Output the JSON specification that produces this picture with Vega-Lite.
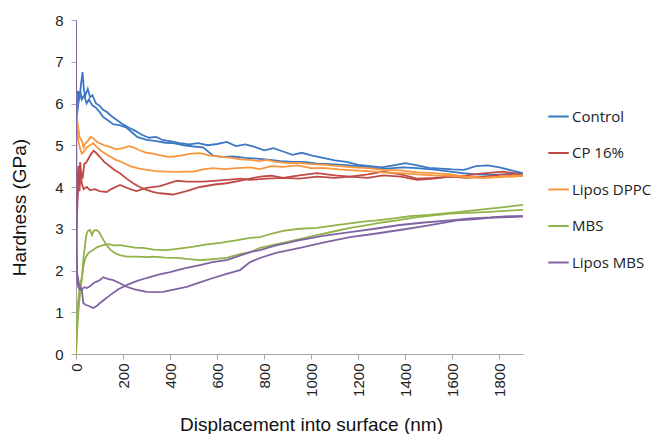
{
  "$schema": "https://vega.github.io/schema/vega-lite/v6.json",
  "width": 447,
  "height": 334,
  "autosize": {"type": "none"},
  "padding": {"left": 76, "top": 20, "right": 129, "bottom": 80},
  "background": "white",
  "config": {"view": {"stroke": null}, "font": "Liberation Sans"},
  "data": {"values": [
{"s":"Control","r":"C1","x":2,"y":5.9},{"s":"Control","r":"C1","x":8,"y":6.3},{"s":"Control","r":"C1","x":15,"y":6.1},{"s":"Control","r":"C1","x":22,"y":6.5},{"s":"Control","r":"C1","x":28,"y":6.75},{"s":"Control","r":"C1","x":34,"y":6.3},{"s":"Control","r":"C1","x":40,"y":6.2},{"s":"Control","r":"C1","x":50,"y":6.35},{"s":"Control","r":"C1","x":60,"y":6.15},{"s":"Control","r":"C1","x":70,"y":6.2},{"s":"Control","r":"C1","x":85,"y":6.0},{"s":"Control","r":"C1","x":100,"y":5.95},{"s":"Control","r":"C1","x":115,"y":5.85},{"s":"Control","r":"C1","x":130,"y":5.8},{"s":"Control","r":"C1","x":150,"y":5.7},{"s":"Control","r":"C1","x":175,"y":5.6},{"s":"Control","r":"C1","x":200,"y":5.5},{"s":"Control","r":"C1","x":225,"y":5.42},{"s":"Control","r":"C1","x":250,"y":5.35},{"s":"Control","r":"C1","x":280,"y":5.25},{"s":"Control","r":"C1","x":310,"y":5.18},{"s":"Control","r":"C1","x":340,"y":5.2},{"s":"Control","r":"C1","x":370,"y":5.12},{"s":"Control","r":"C1","x":400,"y":5.1},{"s":"Control","r":"C1","x":440,"y":5.05},{"s":"Control","r":"C1","x":480,"y":5.02},{"s":"Control","r":"C1","x":520,"y":5.05},{"s":"Control","r":"C1","x":560,"y":5.0},{"s":"Control","r":"C1","x":600,"y":5.03},{"s":"Control","r":"C1","x":640,"y":5.08},{"s":"Control","r":"C1","x":680,"y":4.98},{"s":"Control","r":"C1","x":720,"y":5.02},{"s":"Control","r":"C1","x":760,"y":4.96},{"s":"Control","r":"C1","x":800,"y":4.88},{"s":"Control","r":"C1","x":840,"y":4.93},{"s":"Control","r":"C1","x":880,"y":4.85},{"s":"Control","r":"C1","x":920,"y":4.77},{"s":"Control","r":"C1","x":960,"y":4.82},{"s":"Control","r":"C1","x":1000,"y":4.76},{"s":"Control","r":"C1","x":1050,"y":4.7},{"s":"Control","r":"C1","x":1100,"y":4.64},{"s":"Control","r":"C1","x":1150,"y":4.6},{"s":"Control","r":"C1","x":1200,"y":4.53},{"s":"Control","r":"C1","x":1250,"y":4.5},{"s":"Control","r":"C1","x":1300,"y":4.47},{"s":"Control","r":"C1","x":1350,"y":4.52},{"s":"Control","r":"C1","x":1400,"y":4.57},{"s":"Control","r":"C1","x":1450,"y":4.52},{"s":"Control","r":"C1","x":1500,"y":4.46},{"s":"Control","r":"C1","x":1550,"y":4.44},{"s":"Control","r":"C1","x":1600,"y":4.42},{"s":"Control","r":"C1","x":1650,"y":4.41},{"s":"Control","r":"C1","x":1700,"y":4.5},{"s":"Control","r":"C1","x":1750,"y":4.52},{"s":"Control","r":"C1","x":1800,"y":4.47},{"s":"Control","r":"C1","x":1850,"y":4.4},{"s":"Control","r":"C1","x":1900,"y":4.33},
{"s":"Control","r":"C2","x":2,"y":5.6},{"s":"Control","r":"C2","x":10,"y":6.0},{"s":"Control","r":"C2","x":18,"y":6.3},{"s":"Control","r":"C2","x":25,"y":6.1},{"s":"Control","r":"C2","x":35,"y":6.2},{"s":"Control","r":"C2","x":45,"y":6.0},{"s":"Control","r":"C2","x":55,"y":6.1},{"s":"Control","r":"C2","x":70,"y":5.95},{"s":"Control","r":"C2","x":85,"y":5.9},{"s":"Control","r":"C2","x":100,"y":5.8},{"s":"Control","r":"C2","x":115,"y":5.68},{"s":"Control","r":"C2","x":135,"y":5.6},{"s":"Control","r":"C2","x":160,"y":5.5},{"s":"Control","r":"C2","x":185,"y":5.48},{"s":"Control","r":"C2","x":215,"y":5.42},{"s":"Control","r":"C2","x":240,"y":5.3},{"s":"Control","r":"C2","x":260,"y":5.2},{"s":"Control","r":"C2","x":300,"y":5.13},{"s":"Control","r":"C2","x":340,"y":5.1},{"s":"Control","r":"C2","x":380,"y":5.06},{"s":"Control","r":"C2","x":413,"y":5.05},{"s":"Control","r":"C2","x":460,"y":5.0},{"s":"Control","r":"C2","x":500,"y":4.97},{"s":"Control","r":"C2","x":540,"y":4.95},{"s":"Control","r":"C2","x":583,"y":4.75},{"s":"Control","r":"C2","x":620,"y":4.72},{"s":"Control","r":"C2","x":668,"y":4.73},{"s":"Control","r":"C2","x":720,"y":4.7},{"s":"Control","r":"C2","x":770,"y":4.68},{"s":"Control","r":"C2","x":825,"y":4.65},{"s":"Control","r":"C2","x":870,"y":4.62},{"s":"Control","r":"C2","x":922,"y":4.6},{"s":"Control","r":"C2","x":970,"y":4.6},{"s":"Control","r":"C2","x":1024,"y":4.56},{"s":"Control","r":"C2","x":1080,"y":4.55},{"s":"Control","r":"C2","x":1135,"y":4.53},{"s":"Control","r":"C2","x":1200,"y":4.5},{"s":"Control","r":"C2","x":1260,"y":4.46},{"s":"Control","r":"C2","x":1320,"y":4.44},{"s":"Control","r":"C2","x":1390,"y":4.47},{"s":"Control","r":"C2","x":1450,"y":4.45},{"s":"Control","r":"C2","x":1534,"y":4.41},{"s":"Control","r":"C2","x":1590,"y":4.37},{"s":"Control","r":"C2","x":1645,"y":4.33},{"s":"Control","r":"C2","x":1700,"y":4.3},{"s":"Control","r":"C2","x":1760,"y":4.29},{"s":"Control","r":"C2","x":1820,"y":4.3},{"s":"Control","r":"C2","x":1874,"y":4.33},{"s":"Control","r":"C2","x":1900,"y":4.3},
{"s":"CP 16%","r":"P1","x":1,"y":3.0},{"s":"CP 16%","r":"P1","x":5,"y":4.0},{"s":"CP 16%","r":"P1","x":10,"y":4.5},{"s":"CP 16%","r":"P1","x":15,"y":3.9},{"s":"CP 16%","r":"P1","x":20,"y":4.4},{"s":"CP 16%","r":"P1","x":28,"y":4.2},{"s":"CP 16%","r":"P1","x":35,"y":4.55},{"s":"CP 16%","r":"P1","x":45,"y":4.6},{"s":"CP 16%","r":"P1","x":55,"y":4.7},{"s":"CP 16%","r":"P1","x":65,"y":4.8},{"s":"CP 16%","r":"P1","x":75,"y":4.87},{"s":"CP 16%","r":"P1","x":85,"y":4.82},{"s":"CP 16%","r":"P1","x":100,"y":4.73},{"s":"CP 16%","r":"P1","x":120,"y":4.6},{"s":"CP 16%","r":"P1","x":145,"y":4.49},{"s":"CP 16%","r":"P1","x":165,"y":4.4},{"s":"CP 16%","r":"P1","x":187,"y":4.33},{"s":"CP 16%","r":"P1","x":215,"y":4.2},{"s":"CP 16%","r":"P1","x":243,"y":4.09},{"s":"CP 16%","r":"P1","x":270,"y":4.0},{"s":"CP 16%","r":"P1","x":300,"y":3.93},{"s":"CP 16%","r":"P1","x":330,"y":3.88},{"s":"CP 16%","r":"P1","x":357,"y":3.85},{"s":"CP 16%","r":"P1","x":413,"y":3.82},{"s":"CP 16%","r":"P1","x":470,"y":3.9},{"s":"CP 16%","r":"P1","x":527,"y":4.0},{"s":"CP 16%","r":"P1","x":590,"y":4.06},{"s":"CP 16%","r":"P1","x":640,"y":4.09},{"s":"CP 16%","r":"P1","x":700,"y":4.15},{"s":"CP 16%","r":"P1","x":740,"y":4.2},{"s":"CP 16%","r":"P1","x":782,"y":4.25},{"s":"CP 16%","r":"P1","x":830,"y":4.27},{"s":"CP 16%","r":"P1","x":880,"y":4.22},{"s":"CP 16%","r":"P1","x":950,"y":4.28},{"s":"CP 16%","r":"P1","x":1024,"y":4.33},{"s":"CP 16%","r":"P1","x":1100,"y":4.28},{"s":"CP 16%","r":"P1","x":1165,"y":4.25},{"s":"CP 16%","r":"P1","x":1240,"y":4.3},{"s":"CP 16%","r":"P1","x":1305,"y":4.37},{"s":"CP 16%","r":"P1","x":1380,"y":4.3},{"s":"CP 16%","r":"P1","x":1450,"y":4.2},{"s":"CP 16%","r":"P1","x":1520,"y":4.22},{"s":"CP 16%","r":"P1","x":1590,"y":4.25},{"s":"CP 16%","r":"P1","x":1660,"y":4.28},{"s":"CP 16%","r":"P1","x":1720,"y":4.32},{"s":"CP 16%","r":"P1","x":1815,"y":4.37},{"s":"CP 16%","r":"P1","x":1860,"y":4.33},{"s":"CP 16%","r":"P1","x":1900,"y":4.29},
{"s":"CP 16%","r":"P2","x":1,"y":2.8},{"s":"CP 16%","r":"P2","x":6,"y":3.6},{"s":"CP 16%","r":"P2","x":12,"y":4.2},{"s":"CP 16%","r":"P2","x":18,"y":4.6},{"s":"CP 16%","r":"P2","x":24,"y":4.1},{"s":"CP 16%","r":"P2","x":32,"y":3.95},{"s":"CP 16%","r":"P2","x":46,"y":4.0},{"s":"CP 16%","r":"P2","x":60,"y":3.92},{"s":"CP 16%","r":"P2","x":80,"y":3.95},{"s":"CP 16%","r":"P2","x":100,"y":3.9},{"s":"CP 16%","r":"P2","x":130,"y":3.88},{"s":"CP 16%","r":"P2","x":150,"y":3.95},{"s":"CP 16%","r":"P2","x":187,"y":4.05},{"s":"CP 16%","r":"P2","x":230,"y":3.95},{"s":"CP 16%","r":"P2","x":257,"y":3.9},{"s":"CP 16%","r":"P2","x":300,"y":3.98},{"s":"CP 16%","r":"P2","x":357,"y":4.02},{"s":"CP 16%","r":"P2","x":430,"y":4.15},{"s":"CP 16%","r":"P2","x":470,"y":4.13},{"s":"CP 16%","r":"P2","x":540,"y":4.13},{"s":"CP 16%","r":"P2","x":640,"y":4.17},{"s":"CP 16%","r":"P2","x":700,"y":4.2},{"s":"CP 16%","r":"P2","x":740,"y":4.17},{"s":"CP 16%","r":"P2","x":810,"y":4.2},{"s":"CP 16%","r":"P2","x":880,"y":4.22},{"s":"CP 16%","r":"P2","x":950,"y":4.2},{"s":"CP 16%","r":"P2","x":1024,"y":4.25},{"s":"CP 16%","r":"P2","x":1100,"y":4.22},{"s":"CP 16%","r":"P2","x":1165,"y":4.25},{"s":"CP 16%","r":"P2","x":1240,"y":4.22},{"s":"CP 16%","r":"P2","x":1305,"y":4.28},{"s":"CP 16%","r":"P2","x":1380,"y":4.25},{"s":"CP 16%","r":"P2","x":1450,"y":4.17},{"s":"CP 16%","r":"P2","x":1520,"y":4.2},{"s":"CP 16%","r":"P2","x":1590,"y":4.25},{"s":"CP 16%","r":"P2","x":1660,"y":4.22},{"s":"CP 16%","r":"P2","x":1740,"y":4.25},{"s":"CP 16%","r":"P2","x":1815,"y":4.3},{"s":"CP 16%","r":"P2","x":1900,"y":4.27},
{"s":"Lipos DPPC","r":"D1","x":1,"y":5.9},{"s":"Lipos DPPC","r":"D1","x":5,"y":5.6},{"s":"Lipos DPPC","r":"D1","x":10,"y":5.4},{"s":"Lipos DPPC","r":"D1","x":15,"y":5.2},{"s":"Lipos DPPC","r":"D1","x":20,"y":5.15},{"s":"Lipos DPPC","r":"D1","x":25,"y":5.1},{"s":"Lipos DPPC","r":"D1","x":32,"y":4.95},{"s":"Lipos DPPC","r":"D1","x":40,"y":5.05},{"s":"Lipos DPPC","r":"D1","x":50,"y":5.1},{"s":"Lipos DPPC","r":"D1","x":62,"y":5.2},{"s":"Lipos DPPC","r":"D1","x":73,"y":5.17},{"s":"Lipos DPPC","r":"D1","x":85,"y":5.1},{"s":"Lipos DPPC","r":"D1","x":100,"y":5.05},{"s":"Lipos DPPC","r":"D1","x":120,"y":5.0},{"s":"Lipos DPPC","r":"D1","x":145,"y":4.96},{"s":"Lipos DPPC","r":"D1","x":170,"y":4.9},{"s":"Lipos DPPC","r":"D1","x":200,"y":4.93},{"s":"Lipos DPPC","r":"D1","x":225,"y":4.98},{"s":"Lipos DPPC","r":"D1","x":243,"y":4.95},{"s":"Lipos DPPC","r":"D1","x":270,"y":4.88},{"s":"Lipos DPPC","r":"D1","x":300,"y":4.82},{"s":"Lipos DPPC","r":"D1","x":328,"y":4.8},{"s":"Lipos DPPC","r":"D1","x":360,"y":4.76},{"s":"Lipos DPPC","r":"D1","x":390,"y":4.72},{"s":"Lipos DPPC","r":"D1","x":413,"y":4.73},{"s":"Lipos DPPC","r":"D1","x":450,"y":4.76},{"s":"Lipos DPPC","r":"D1","x":490,"y":4.8},{"s":"Lipos DPPC","r":"D1","x":527,"y":4.81},{"s":"Lipos DPPC","r":"D1","x":570,"y":4.75},{"s":"Lipos DPPC","r":"D1","x":612,"y":4.73},{"s":"Lipos DPPC","r":"D1","x":660,"y":4.7},{"s":"Lipos DPPC","r":"D1","x":700,"y":4.66},{"s":"Lipos DPPC","r":"D1","x":740,"y":4.65},{"s":"Lipos DPPC","r":"D1","x":780,"y":4.62},{"s":"Lipos DPPC","r":"D1","x":810,"y":4.65},{"s":"Lipos DPPC","r":"D1","x":850,"y":4.6},{"s":"Lipos DPPC","r":"D1","x":900,"y":4.57},{"s":"Lipos DPPC","r":"D1","x":950,"y":4.58},{"s":"Lipos DPPC","r":"D1","x":1000,"y":4.55},{"s":"Lipos DPPC","r":"D1","x":1060,"y":4.53},{"s":"Lipos DPPC","r":"D1","x":1120,"y":4.5},{"s":"Lipos DPPC","r":"D1","x":1180,"y":4.47},{"s":"Lipos DPPC","r":"D1","x":1240,"y":4.45},{"s":"Lipos DPPC","r":"D1","x":1305,"y":4.41},{"s":"Lipos DPPC","r":"D1","x":1380,"y":4.4},{"s":"Lipos DPPC","r":"D1","x":1450,"y":4.35},{"s":"Lipos DPPC","r":"D1","x":1520,"y":4.33},{"s":"Lipos DPPC","r":"D1","x":1590,"y":4.3},{"s":"Lipos DPPC","r":"D1","x":1660,"y":4.25},{"s":"Lipos DPPC","r":"D1","x":1730,"y":4.22},{"s":"Lipos DPPC","r":"D1","x":1800,"y":4.25},{"s":"Lipos DPPC","r":"D1","x":1860,"y":4.27},{"s":"Lipos DPPC","r":"D1","x":1900,"y":4.28},
{"s":"Lipos DPPC","r":"D2","x":1,"y":5.5},{"s":"Lipos DPPC","r":"D2","x":5,"y":5.3},{"s":"Lipos DPPC","r":"D2","x":10,"y":5.1},{"s":"Lipos DPPC","r":"D2","x":18,"y":4.9},{"s":"Lipos DPPC","r":"D2","x":25,"y":4.8},{"s":"Lipos DPPC","r":"D2","x":35,"y":4.85},{"s":"Lipos DPPC","r":"D2","x":45,"y":4.95},{"s":"Lipos DPPC","r":"D2","x":60,"y":5.0},{"s":"Lipos DPPC","r":"D2","x":73,"y":5.05},{"s":"Lipos DPPC","r":"D2","x":90,"y":4.95},{"s":"Lipos DPPC","r":"D2","x":110,"y":4.85},{"s":"Lipos DPPC","r":"D2","x":130,"y":4.78},{"s":"Lipos DPPC","r":"D2","x":145,"y":4.73},{"s":"Lipos DPPC","r":"D2","x":170,"y":4.65},{"s":"Lipos DPPC","r":"D2","x":200,"y":4.58},{"s":"Lipos DPPC","r":"D2","x":230,"y":4.5},{"s":"Lipos DPPC","r":"D2","x":260,"y":4.45},{"s":"Lipos DPPC","r":"D2","x":300,"y":4.41},{"s":"Lipos DPPC","r":"D2","x":340,"y":4.38},{"s":"Lipos DPPC","r":"D2","x":385,"y":4.37},{"s":"Lipos DPPC","r":"D2","x":430,"y":4.36},{"s":"Lipos DPPC","r":"D2","x":470,"y":4.37},{"s":"Lipos DPPC","r":"D2","x":500,"y":4.37},{"s":"Lipos DPPC","r":"D2","x":540,"y":4.42},{"s":"Lipos DPPC","r":"D2","x":583,"y":4.45},{"s":"Lipos DPPC","r":"D2","x":630,"y":4.43},{"s":"Lipos DPPC","r":"D2","x":685,"y":4.45},{"s":"Lipos DPPC","r":"D2","x":740,"y":4.47},{"s":"Lipos DPPC","r":"D2","x":782,"y":4.43},{"s":"Lipos DPPC","r":"D2","x":830,"y":4.5},{"s":"Lipos DPPC","r":"D2","x":880,"y":4.48},{"s":"Lipos DPPC","r":"D2","x":940,"y":4.52},{"s":"Lipos DPPC","r":"D2","x":1000,"y":4.45},{"s":"Lipos DPPC","r":"D2","x":1060,"y":4.45},{"s":"Lipos DPPC","r":"D2","x":1120,"y":4.42},{"s":"Lipos DPPC","r":"D2","x":1180,"y":4.4},{"s":"Lipos DPPC","r":"D2","x":1240,"y":4.38},{"s":"Lipos DPPC","r":"D2","x":1305,"y":4.35},{"s":"Lipos DPPC","r":"D2","x":1380,"y":4.33},{"s":"Lipos DPPC","r":"D2","x":1450,"y":4.3},{"s":"Lipos DPPC","r":"D2","x":1520,"y":4.28},{"s":"Lipos DPPC","r":"D2","x":1590,"y":4.27},{"s":"Lipos DPPC","r":"D2","x":1660,"y":4.24},{"s":"Lipos DPPC","r":"D2","x":1730,"y":4.22},{"s":"Lipos DPPC","r":"D2","x":1800,"y":4.24},{"s":"Lipos DPPC","r":"D2","x":1860,"y":4.25},{"s":"Lipos DPPC","r":"D2","x":1900,"y":4.27},
{"s":"MBS","r":"M1","x":0,"y":0},{"s":"MBS","r":"M1","x":3,"y":0.6},{"s":"MBS","r":"M1","x":8,"y":1.2},{"s":"MBS","r":"M1","x":14,"y":1.5},{"s":"MBS","r":"M1","x":20,"y":1.7},{"s":"MBS","r":"M1","x":25,"y":1.85},{"s":"MBS","r":"M1","x":32,"y":2.3},{"s":"MBS","r":"M1","x":40,"y":2.7},{"s":"MBS","r":"M1","x":46,"y":2.9},{"s":"MBS","r":"M1","x":52,"y":2.95},{"s":"MBS","r":"M1","x":60,"y":2.97},{"s":"MBS","r":"M1","x":68,"y":2.85},{"s":"MBS","r":"M1","x":75,"y":2.95},{"s":"MBS","r":"M1","x":87,"y":2.97},{"s":"MBS","r":"M1","x":98,"y":2.92},{"s":"MBS","r":"M1","x":110,"y":2.8},{"s":"MBS","r":"M1","x":125,"y":2.65},{"s":"MBS","r":"M1","x":145,"y":2.5},{"s":"MBS","r":"M1","x":170,"y":2.4},{"s":"MBS","r":"M1","x":190,"y":2.36},{"s":"MBS","r":"M1","x":215,"y":2.33},{"s":"MBS","r":"M1","x":260,"y":2.33},{"s":"MBS","r":"M1","x":300,"y":2.32},{"s":"MBS","r":"M1","x":328,"y":2.33},{"s":"MBS","r":"M1","x":380,"y":2.31},{"s":"MBS","r":"M1","x":430,"y":2.3},{"s":"MBS","r":"M1","x":480,"y":2.27},{"s":"MBS","r":"M1","x":527,"y":2.25},{"s":"MBS","r":"M1","x":580,"y":2.27},{"s":"MBS","r":"M1","x":640,"y":2.3},{"s":"MBS","r":"M1","x":700,"y":2.4},{"s":"MBS","r":"M1","x":740,"y":2.44},{"s":"MBS","r":"M1","x":782,"y":2.54},{"s":"MBS","r":"M1","x":830,"y":2.6},{"s":"MBS","r":"M1","x":880,"y":2.66},{"s":"MBS","r":"M1","x":950,"y":2.75},{"s":"MBS","r":"M1","x":1024,"y":2.85},{"s":"MBS","r":"M1","x":1100,"y":2.94},{"s":"MBS","r":"M1","x":1165,"y":3.02},{"s":"MBS","r":"M1","x":1250,"y":3.1},{"s":"MBS","r":"M1","x":1300,"y":3.15},{"s":"MBS","r":"M1","x":1364,"y":3.2},{"s":"MBS","r":"M1","x":1450,"y":3.28},{"s":"MBS","r":"M1","x":1520,"y":3.32},{"s":"MBS","r":"M1","x":1590,"y":3.36},{"s":"MBS","r":"M1","x":1660,"y":3.38},{"s":"MBS","r":"M1","x":1740,"y":3.4},{"s":"MBS","r":"M1","x":1820,"y":3.43},{"s":"MBS","r":"M1","x":1900,"y":3.45},
{"s":"MBS","r":"M2","x":0,"y":0},{"s":"MBS","r":"M2","x":4,"y":0.5},{"s":"MBS","r":"M2","x":10,"y":1.0},{"s":"MBS","r":"M2","x":18,"y":1.5},{"s":"MBS","r":"M2","x":25,"y":1.8},{"s":"MBS","r":"M2","x":31,"y":2.09},{"s":"MBS","r":"M2","x":40,"y":2.3},{"s":"MBS","r":"M2","x":50,"y":2.4},{"s":"MBS","r":"M2","x":60,"y":2.45},{"s":"MBS","r":"M2","x":73,"y":2.49},{"s":"MBS","r":"M2","x":90,"y":2.56},{"s":"MBS","r":"M2","x":115,"y":2.61},{"s":"MBS","r":"M2","x":140,"y":2.63},{"s":"MBS","r":"M2","x":160,"y":2.6},{"s":"MBS","r":"M2","x":187,"y":2.61},{"s":"MBS","r":"M2","x":220,"y":2.58},{"s":"MBS","r":"M2","x":250,"y":2.55},{"s":"MBS","r":"M2","x":285,"y":2.54},{"s":"MBS","r":"M2","x":330,"y":2.5},{"s":"MBS","r":"M2","x":385,"y":2.49},{"s":"MBS","r":"M2","x":430,"y":2.52},{"s":"MBS","r":"M2","x":470,"y":2.55},{"s":"MBS","r":"M2","x":500,"y":2.57},{"s":"MBS","r":"M2","x":550,"y":2.62},{"s":"MBS","r":"M2","x":612,"y":2.66},{"s":"MBS","r":"M2","x":680,"y":2.72},{"s":"MBS","r":"M2","x":740,"y":2.78},{"s":"MBS","r":"M2","x":782,"y":2.8},{"s":"MBS","r":"M2","x":830,"y":2.88},{"s":"MBS","r":"M2","x":880,"y":2.95},{"s":"MBS","r":"M2","x":950,"y":3.0},{"s":"MBS","r":"M2","x":1024,"y":3.02},{"s":"MBS","r":"M2","x":1100,"y":3.08},{"s":"MBS","r":"M2","x":1165,"y":3.13},{"s":"MBS","r":"M2","x":1220,"y":3.17},{"s":"MBS","r":"M2","x":1280,"y":3.2},{"s":"MBS","r":"M2","x":1350,"y":3.25},{"s":"MBS","r":"M2","x":1420,"y":3.3},{"s":"MBS","r":"M2","x":1500,"y":3.33},{"s":"MBS","r":"M2","x":1590,"y":3.38},{"s":"MBS","r":"M2","x":1660,"y":3.42},{"s":"MBS","r":"M2","x":1740,"y":3.47},{"s":"MBS","r":"M2","x":1820,"y":3.52},{"s":"MBS","r":"M2","x":1900,"y":3.57},
{"s":"Lipos MBS","r":"L1","x":0,"y":8.0},{"s":"Lipos MBS","r":"L1","x":1,"y":5.0},{"s":"Lipos MBS","r":"L1","x":3,"y":2.6},{"s":"Lipos MBS","r":"L1","x":5,"y":1.9},{"s":"Lipos MBS","r":"L1","x":8,"y":1.84},{"s":"Lipos MBS","r":"L1","x":12,"y":1.7},{"s":"Lipos MBS","r":"L1","x":18,"y":1.6},{"s":"Lipos MBS","r":"L1","x":25,"y":1.53},{"s":"Lipos MBS","r":"L1","x":31,"y":1.22},{"s":"Lipos MBS","r":"L1","x":40,"y":1.18},{"s":"Lipos MBS","r":"L1","x":55,"y":1.15},{"s":"Lipos MBS","r":"L1","x":73,"y":1.1},{"s":"Lipos MBS","r":"L1","x":88,"y":1.15},{"s":"Lipos MBS","r":"L1","x":102,"y":1.22},{"s":"Lipos MBS","r":"L1","x":120,"y":1.3},{"s":"Lipos MBS","r":"L1","x":145,"y":1.41},{"s":"Lipos MBS","r":"L1","x":180,"y":1.55},{"s":"Lipos MBS","r":"L1","x":215,"y":1.65},{"s":"Lipos MBS","r":"L1","x":260,"y":1.75},{"s":"Lipos MBS","r":"L1","x":300,"y":1.82},{"s":"Lipos MBS","r":"L1","x":350,"y":1.9},{"s":"Lipos MBS","r":"L1","x":400,"y":1.96},{"s":"Lipos MBS","r":"L1","x":460,"y":2.05},{"s":"Lipos MBS","r":"L1","x":527,"y":2.13},{"s":"Lipos MBS","r":"L1","x":580,"y":2.2},{"s":"Lipos MBS","r":"L1","x":640,"y":2.25},{"s":"Lipos MBS","r":"L1","x":700,"y":2.36},{"s":"Lipos MBS","r":"L1","x":740,"y":2.44},{"s":"Lipos MBS","r":"L1","x":782,"y":2.49},{"s":"Lipos MBS","r":"L1","x":850,"y":2.6},{"s":"Lipos MBS","r":"L1","x":952,"y":2.73},{"s":"Lipos MBS","r":"L1","x":1050,"y":2.83},{"s":"Lipos MBS","r":"L1","x":1165,"y":2.92},{"s":"Lipos MBS","r":"L1","x":1270,"y":3.0},{"s":"Lipos MBS","r":"L1","x":1377,"y":3.09},{"s":"Lipos MBS","r":"L1","x":1480,"y":3.15},{"s":"Lipos MBS","r":"L1","x":1590,"y":3.2},{"s":"Lipos MBS","r":"L1","x":1680,"y":3.25},{"s":"Lipos MBS","r":"L1","x":1760,"y":3.27},{"s":"Lipos MBS","r":"L1","x":1840,"y":3.3},{"s":"Lipos MBS","r":"L1","x":1900,"y":3.3},
{"s":"Lipos MBS","r":"L2","x":0,"y":7.5},{"s":"Lipos MBS","r":"L2","x":1,"y":4.5},{"s":"Lipos MBS","r":"L2","x":3,"y":2.2},{"s":"Lipos MBS","r":"L2","x":6,"y":1.7},{"s":"Lipos MBS","r":"L2","x":10,"y":1.6},{"s":"Lipos MBS","r":"L2","x":17,"y":1.53},{"s":"Lipos MBS","r":"L2","x":25,"y":1.55},{"s":"Lipos MBS","r":"L2","x":35,"y":1.6},{"s":"Lipos MBS","r":"L2","x":46,"y":1.58},{"s":"Lipos MBS","r":"L2","x":60,"y":1.62},{"s":"Lipos MBS","r":"L2","x":75,"y":1.7},{"s":"Lipos MBS","r":"L2","x":90,"y":1.74},{"s":"Lipos MBS","r":"L2","x":102,"y":1.77},{"s":"Lipos MBS","r":"L2","x":115,"y":1.84},{"s":"Lipos MBS","r":"L2","x":135,"y":1.8},{"s":"Lipos MBS","r":"L2","x":158,"y":1.77},{"s":"Lipos MBS","r":"L2","x":185,"y":1.7},{"s":"Lipos MBS","r":"L2","x":215,"y":1.61},{"s":"Lipos MBS","r":"L2","x":250,"y":1.55},{"s":"Lipos MBS","r":"L2","x":300,"y":1.49},{"s":"Lipos MBS","r":"L2","x":340,"y":1.48},{"s":"Lipos MBS","r":"L2","x":370,"y":1.49},{"s":"Lipos MBS","r":"L2","x":420,"y":1.55},{"s":"Lipos MBS","r":"L2","x":470,"y":1.61},{"s":"Lipos MBS","r":"L2","x":530,"y":1.72},{"s":"Lipos MBS","r":"L2","x":583,"y":1.82},{"s":"Lipos MBS","r":"L2","x":640,"y":1.92},{"s":"Lipos MBS","r":"L2","x":697,"y":2.01},{"s":"Lipos MBS","r":"L2","x":740,"y":2.2},{"s":"Lipos MBS","r":"L2","x":782,"y":2.3},{"s":"Lipos MBS","r":"L2","x":850,"y":2.42},{"s":"Lipos MBS","r":"L2","x":952,"y":2.54},{"s":"Lipos MBS","r":"L2","x":1050,"y":2.67},{"s":"Lipos MBS","r":"L2","x":1165,"y":2.8},{"s":"Lipos MBS","r":"L2","x":1270,"y":2.88},{"s":"Lipos MBS","r":"L2","x":1377,"y":2.97},{"s":"Lipos MBS","r":"L2","x":1500,"y":3.08},{"s":"Lipos MBS","r":"L2","x":1620,"y":3.2},{"s":"Lipos MBS","r":"L2","x":1700,"y":3.23},{"s":"Lipos MBS","r":"L2","x":1780,"y":3.27},{"s":"Lipos MBS","r":"L2","x":1850,"y":3.28},{"s":"Lipos MBS","r":"L2","x":1900,"y":3.3}
  ]},
  "mark": {"type": "line", "strokeWidth": 1.8, "clip": true},
  "encoding": {
    "x": {
      "field": "x", "type": "quantitative",
      "scale": {"domain": [0, 1900], "nice": false, "zero": true},
      "axis": {
        "values": [0,200,400,600,800,1000,1200,1400,1600,1800],
        "format": "d",
        "title": "Displacement into surface (nm)",
        "grid": false, "labelAngle": -90, "labelAlign": "right", "labelBaseline": "middle",
        "labelFontSize": 15, "labelColor": "#222", "labelPadding": 4,
        "tickSize": 5, "tickColor": "#A6A6A6", "domainColor": "#A6A6A6",
        "titleFontSize": 19, "titleFontWeight": "normal", "titleColor": "#111",
        "titleX": 235, "titleY": 76, "titleBaseline": "alphabetic"
      }
    },
    "y": {
      "field": "y", "type": "quantitative",
      "scale": {"domain": [0, 8], "nice": false},
      "axis": {
        "values": [0,1,2,3,4,5,6,7,8],
        "title": "Hardness (GPa)",
        "grid": false, "labelFontSize": 15, "labelColor": "#222", "labelPadding": 8,
        "tickSize": 5, "tickColor": "#A6A6A6", "domainColor": "#A6A6A6",
        "titleFontSize": 19, "titleFontWeight": "normal", "titleColor": "#111",
        "titleX": -51, "titleY": 187, "titleBaseline": "alphabetic"
      }
    },
    "color": {
      "field": "s", "type": "nominal",
      "scale": {
        "domain": ["Control", "CP 16%", "Lipos DPPC", "MBS", "Lipos MBS"],
        "range": ["#3C78C3", "#BE4B48", "#F9963E", "#92B24A", "#8064A2"]
      },
      "legend": {
        "title": null, "orient": "none", "legendX": 471, "legendY": 85,
        "symbolType": "stroke", "symbolSize": 420, "symbolStrokeWidth": 2,
        "labelFontSize": 15, "labelFont": "Open Sans", "labelColor": "#222", "labelOffset": 2,
        "rowPadding": 16.5
      }
    },
    "detail": {"field": "r", "type": "nominal"}
  }
}
